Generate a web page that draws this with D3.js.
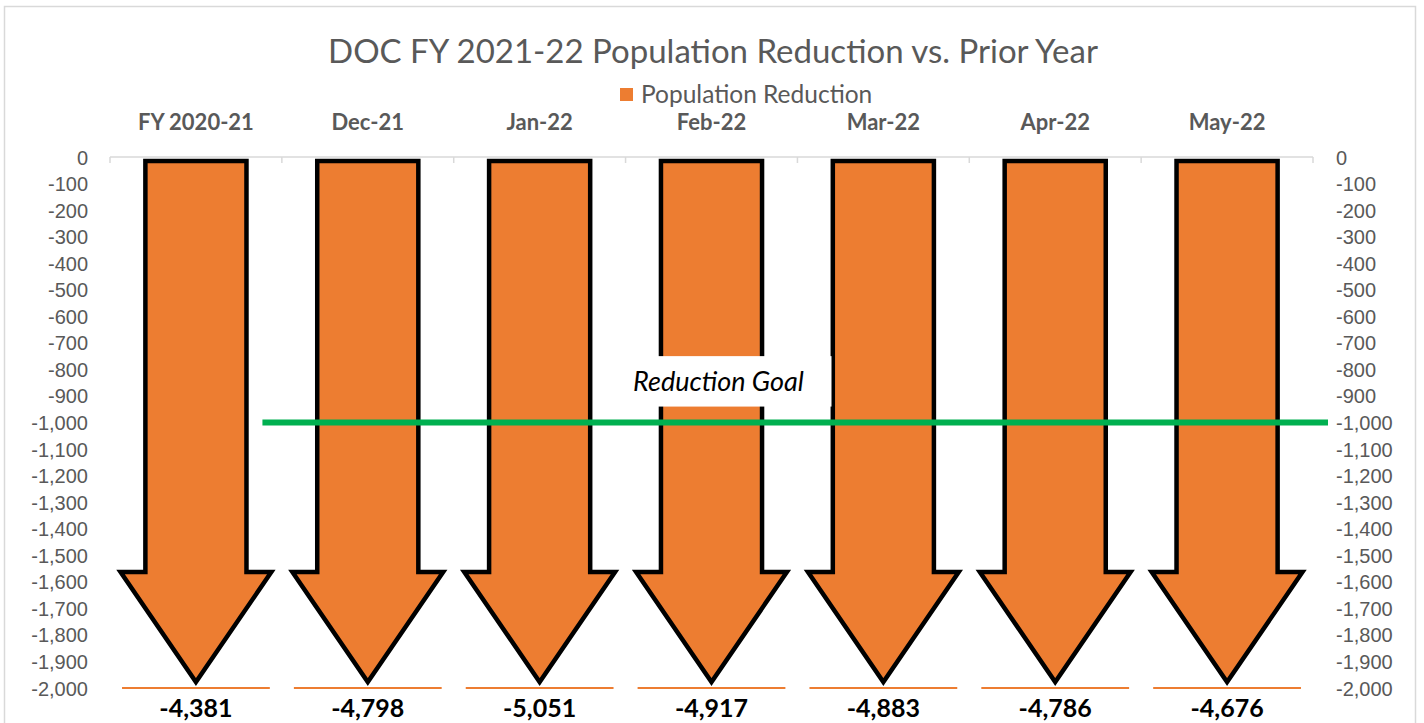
<!DOCTYPE html>
<html>
<head>
<meta charset="utf-8">
<script src="https://cdn.jsdelivr.net/npm/d3@7"></script>
<style>
  body { margin: 0; background: #fff; }
  svg { font-family: Lato, "Open Sans", sans-serif; }
</style>
</head>
<body>
<div id="graph"></div>
<script>
// chart values
const categories = ['FY 2020-21', 'Dec-21', 'Jan-22', 'Feb-22', 'Mar-22', 'Apr-22', 'May-22'];
const reductions = [-4381, -4798, -5051, -4917, -4883, -4786, -4676];
const yTicks = d3.range(0, -2001, -100);
const goalValue = -1000;
const seriesName = 'Population Reduction';
const titleText = 'DOC FY 2021-22 Population Reduction vs. Prior Year';

const orange = '#ED7D31';
const grey = '#595959';
const green = '#00B050';

const w = 1424;
const h = 723;
const padding = {top: 157, right: 111, bottom: 35, left: 110};

const svg = d3.select('#graph')
    .append('svg')
    .attr('width', w)
    .attr('height', h);

// chart border
svg.append('rect')
    .attr('x', 4.5).attr('y', 6.5)
    .attr('width', 1411).attr('height', 730)
    .attr('fill', 'none')
    .attr('stroke', '#d9d9d9')
    .attr('stroke-width', 1.5);

const xScale = d3.scaleBand()
    .domain(categories)
    .range([padding.left, w - padding.right])
    .paddingInner(0.14)
    .paddingOuter(0.07);

const yScale = d3.scaleLinear()
    .domain([0, -2000])
    .range([padding.top, h - padding.bottom]);

// plain hyphen for negatives, like the source
const fmt = d3.formatLocale({decimal: '.', thousands: ',', grouping: [3], currency: ['$', ''], minus: '-'}).format(',');

// left and right value axes (no domain line)
const yLeft = d3.axisLeft(yScale).tickValues(yTicks).tickSize(0).tickPadding(0).tickFormat(fmt);
const yRight = d3.axisRight(yScale).tickValues(yTicks).tickSize(0).tickPadding(0).tickFormat(fmt);

const gl = svg.append('g')
    .attr('transform', 'translate(88,0)')
    .call(yLeft);
const gr = svg.append('g')
    .attr('transform', 'translate(1336,0)')
    .call(yRight);
[gl, gr].forEach(g => {
    g.select('.domain').remove();
    g.selectAll('text')
        .attr('fill', grey)
        .style('font-size', '20px')
        .attr('dy', '0.35em');
});

// category axis along the top (value 0)
const cx = svg.append('g');
cx.append('line')
    .attr('x1', padding.left).attr('x2', w - padding.right)
    .attr('y1', yScale(0)).attr('y2', yScale(0))
    .attr('stroke', '#d9d9d9').attr('stroke-width', 1.5);
const bounds = categories.map(c => xScale(c) - xScale.step() * xScale.paddingOuter());
bounds.push(w - padding.right);
cx.selectAll('.tick')
    .data(bounds)
    .enter()
    .append('line')
    .attr('class', 'tick')
    .attr('x1', d => d).attr('x2', d => d)
    .attr('y1', yScale(0)).attr('y2', yScale(0) + 6)
    .attr('stroke', '#d9d9d9').attr('stroke-width', 1.5);

svg.selectAll('.cat')
    .data(categories)
    .enter()
    .append('text')
    .attr('class', 'cat')
    .attr('x', d => xScale(d) + xScale.bandwidth() / 2)
    .attr('y', 130)
    .attr('text-anchor', 'middle')
    .attr('fill', grey)
    .style('font-size', '22px')
    .style('font-weight', 'bold')
    .text(d => d);

// clipped bar bottoms
const bw = xScale.bandwidth();
svg.selectAll('.base')
    .data(reductions)
    .enter()
    .append('line')
    .attr('class', 'base')
    .attr('x1', (d, i) => xScale(categories[i]))
    .attr('x2', (d, i) => xScale(categories[i]) + bw)
    .attr('y1', d => yScale(Math.max(d, -2000)))
    .attr('y2', d => yScale(Math.max(d, -2000)))
    .attr('stroke', orange)
    .attr('stroke-width', 2);

// arrow shaped bars
function arrowPath(d, i) {
    const c = xScale(categories[i]) + bw / 2;
    const top = yScale(0) + 4;
    const tip = yScale(Math.max(d, -2000)) - 6;
    const shoulder = top + (tip - top) * 0.789;
    const sw = bw * 0.342;
    const hw = bw * 0.51;
    return 'M' + (c - sw) + ',' + top +
        'L' + (c + sw) + ',' + top +
        'L' + (c + sw) + ',' + shoulder +
        'L' + (c + hw) + ',' + shoulder +
        'L' + c + ',' + tip +
        'L' + (c - hw) + ',' + shoulder +
        'L' + (c - sw) + ',' + shoulder + 'Z';
}

svg.selectAll('.arrow')
    .data(reductions)
    .enter()
    .append('path')
    .attr('class', 'arrow')
    .attr('d', arrowPath)
    .attr('fill', orange)
    .attr('stroke', '#000')
    .attr('stroke-width', 4.5)
    .attr('stroke-linejoin', 'miter');

// value labels
svg.selectAll('.val')
    .data(reductions)
    .enter()
    .append('text')
    .attr('class', 'val')
    .attr('x', (d, i) => xScale(categories[i]) + bw / 2)
    .attr('y', yScale(-2000) + 29)
    .attr('text-anchor', 'middle')
    .attr('fill', '#000')
    .style('font-size', '25px')
    .style('font-weight', 'bold')
    .text(d => fmt(d));

// goal label box + text
const labelX = xScale('Feb-22') + bw / 2 + 7;
svg.append('rect')
    .attr('x', labelX - 113)
    .attr('y', yScale(-750))
    .attr('width', 226)
    .attr('height', yScale(-940) - yScale(-750))
    .attr('fill', '#fff');
svg.append('text')
    .attr('x', labelX)
    .attr('y', yScale(-880))
    .attr('text-anchor', 'middle')
    .attr('fill', '#000')
    .style('font-size', '27px')
    .style('font-style', 'italic')
    .text('Reduction Goal');

// goal line
svg.append('line')
    .attr('x1', xScale(categories[0]) + bw * 0.95)
    .attr('x2', w - padding.right + 15)
    .attr('y1', yScale(goalValue))
    .attr('y2', yScale(goalValue))
    .attr('stroke', green)
    .attr('stroke-width', 6);

// title
svg.append('text')
    .attr('x', 713)
    .attr('y', 63)
    .attr('text-anchor', 'middle')
    .attr('fill', grey)
    .style('font-size', '33px')
    .text(titleText);

// legend
svg.append('rect')
    .attr('x', 620).attr('y', 88)
    .attr('width', 13).attr('height', 13)
    .attr('fill', orange);
svg.append('text')
    .attr('x', 641)
    .attr('y', 103)
    .attr('fill', grey)
    .style('font-size', '24.5px')
    .text(seriesName);
</script>
</body>
</html>
